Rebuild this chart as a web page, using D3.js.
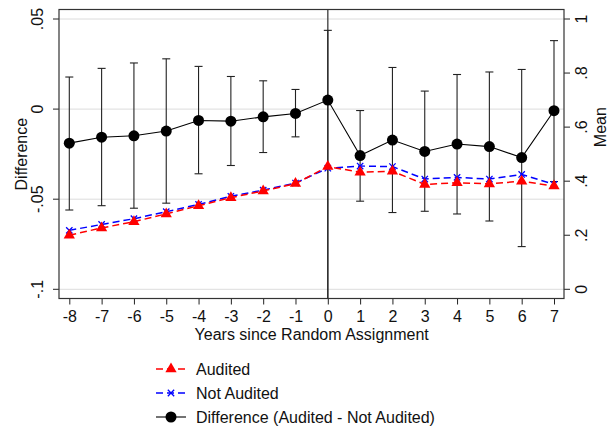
<!DOCTYPE html>
<html lang="en">
<head>
    <meta charset="UTF-8">
    <title>Audited vs Not Audited</title>
    <script src="https://d3js.org/d3.v7.min.js"></script>
    <style>
        body { margin: 0; background: white; }
        text { font-family: "Liberation Sans", Arial, sans-serif; fill: #111; }
    </style>
</head>
<body>
    <div id="chart"></div>
    <script>
        // Data
        const years = [-8, -7, -6, -5, -4, -3, -2, -1, 0, 1, 2, 3, 4, 5, 6, 7];
        const audited    = [0.200, 0.227, 0.250, 0.279, 0.309, 0.339, 0.364, 0.391, 0.454, 0.433, 0.437, 0.388, 0.394, 0.390, 0.400, 0.382];
        const notAudited = [0.218, 0.240, 0.261, 0.287, 0.314, 0.344, 0.367, 0.393, 0.448, 0.456, 0.454, 0.408, 0.414, 0.408, 0.425, 0.388];
        const diff   = [-0.0189, -0.0156, -0.0148, -0.0122, -0.0063, -0.0067, -0.0043, -0.0024, 0.0050, -0.0258, -0.0172, -0.0235, -0.0194, -0.0208, -0.0269, -0.0009];
        const diffHi = [0.0178, 0.0226, 0.0256, 0.0279, 0.0237, 0.0181, 0.0157, 0.0109, 0.0437, -0.0008, 0.0231, 0.0100, 0.0192, 0.0206, 0.0220, 0.0380];
        const diffLo = [-0.0560, -0.0536, -0.0550, -0.0522, -0.0359, -0.0313, -0.0241, -0.0154, null, -0.0511, -0.0574, -0.0567, -0.0582, -0.0621, -0.0763, -0.0402];
        const leftTicks = [-0.1, -0.05, 0, 0.05];
        const leftTickLabels = ["-.1", "-.05", "0", ".05"];
        const rightTicks = [0, 0.2, 0.4, 0.6, 0.8, 1];
        const rightTickLabels = ["0", ".2", ".4", ".6", ".8", "1"];
        const legendLabels = ["Audited", "Not Audited", "Difference (Audited - Not Audited)"];

        const W = 616, H = 429;
        const frame = {left: 59, right: 564, top: 9.5, bottom: 298.5};

        const svg = d3.select("#chart").append("svg")
            .attr("width", W)
            .attr("height", H);

        const x = d3.scaleLinear().domain([-8, 7]).range([69.3, 554]);
        const yL = d3.scaleLinear().domain([-0.1, 0.05]).range([289.3, 19]);
        const yR = d3.scaleLinear().domain([0, 1]).range([289.3, 19]);

        // gridlines
        svg.append("g").selectAll("line")
            .data(leftTicks)
            .join("line")
            .attr("x1", frame.left).attr("x2", frame.right)
            .attr("y1", d => yL(d)).attr("y2", d => yL(d))
            .attr("stroke", "#dcdcdc").attr("stroke-width", 1);

        // vertical line at 0
        svg.append("line")
            .attr("x1", x(0)).attr("x2", x(0))
            .attr("y1", frame.top).attr("y2", frame.bottom)
            .attr("stroke", "#555").attr("stroke-width", 1.5);

        // axes
        const leftAxis = d3.axisLeft(yL).tickValues(leftTicks).tickSize(6)
            .tickFormat((d, i) => leftTickLabels[i]);
        const gl = svg.append("g").attr("transform", `translate(${frame.left},0)`).call(leftAxis);
        gl.select(".domain").remove();
        gl.selectAll("g.tick").attr("transform", null);
        gl.selectAll("g.tick line").attr("y1", d => yL(d)).attr("y2", d => yL(d)).attr("stroke", "#222");
        gl.selectAll("text")
            .attr("x", null).attr("dy", "0.35em").attr("y", 0)
            .attr("transform", d => `translate(-21.5,${yL(d)}) rotate(-90)`)
            .style("text-anchor", "middle")
            .style("font-size", "16px");

        const rightAxis = d3.axisRight(yR).tickValues(rightTicks).tickSize(6)
            .tickFormat((d, i) => rightTickLabels[i]);
        const gr = svg.append("g").attr("transform", `translate(${frame.right},0)`).call(rightAxis);
        gr.select(".domain").remove();
        gr.selectAll("g.tick").attr("transform", null);
        gr.selectAll("g.tick line").attr("y1", d => yR(d)).attr("y2", d => yR(d)).attr("stroke", "#222");
        gr.selectAll("text")
            .attr("x", null).attr("dy", "0.35em").attr("y", 0)
            .attr("transform", d => `translate(17.5,${yR(d)}) rotate(-90)`)
            .style("text-anchor", "middle")
            .style("font-size", "16px");

        const bottomAxis = d3.axisBottom(x).tickValues(years).tickSize(6).tickFormat(d3.format("d"));
        const gb = svg.append("g").attr("transform", `translate(0,${frame.bottom})`).call(bottomAxis);
        gb.select(".domain").remove();
        gb.selectAll("line").attr("stroke", "#222");
        gb.selectAll("text").attr("y", 12.5).style("font-size", "16px")
            .text(d => d < 0 ? "-" + Math.abs(d) : d);

        svg.selectAll(".tick text").attr("fill", "#111");

        // frame
        svg.append("rect")
            .attr("x", frame.left).attr("y", frame.top)
            .attr("width", frame.right - frame.left)
            .attr("height", frame.bottom - frame.top)
            .attr("fill", "none").attr("stroke", "#333").attr("stroke-width", 1.2);

        // axis titles
        svg.append("text")
            .attr("transform", `translate(21,${yL(-0.025)}) rotate(-90)`)
            .attr("dy", "0.35em")
            .style("text-anchor", "middle").style("font-size", "16px")
            .text("Difference");
        svg.append("text")
            .attr("transform", `translate(600,${yR(0.6)}) rotate(-90)`)
            .attr("dy", "0.35em")
            .style("text-anchor", "middle").style("font-size", "16px")
            .text("Mean");
        svg.append("text")
            .attr("x", x(-0.5)).attr("y", 340)
            .style("text-anchor", "middle").style("font-size", "16px")
            .text("Years since Random Assignment");

        // error bars for difference
        const bars = years.map((yr, i) => ({yr, hi: diffHi[i], lo: diffLo[i]}));
        const eb = svg.append("g").attr("stroke", "#222").attr("stroke-width", 1.1);
        eb.selectAll("line.v").data(bars).join("line")
            .attr("class", "v")
            .attr("x1", d => x(d.yr)).attr("x2", d => x(d.yr))
            .attr("y1", d => yL(d.hi))
            .attr("y2", d => d.lo === null ? frame.bottom : yL(d.lo));
        eb.selectAll("line.ch").data(bars).join("line")
            .attr("class", "ch")
            .attr("x1", d => x(d.yr) - 4).attr("x2", d => x(d.yr) + 4)
            .attr("y1", d => yL(d.hi)).attr("y2", d => yL(d.hi));
        eb.selectAll("line.cl").data(bars.filter(d => d.lo !== null)).join("line")
            .attr("class", "cl")
            .attr("x1", d => x(d.yr) - 4).attr("x2", d => x(d.yr) + 4)
            .attr("y1", d => yL(d.lo)).attr("y2", d => yL(d.lo));

        // lines
        const lineR = d3.line().x((d, i) => x(years[i])).y(d => yR(d));
        const lineL = d3.line().x((d, i) => x(years[i])).y(d => yL(d));

        svg.append("path").datum(notAudited)
            .attr("d", lineR).attr("fill", "none")
            .attr("stroke", "#0000ff").attr("stroke-width", 1.5)
            .attr("stroke-dasharray", "7,4");
        svg.append("path").datum(audited)
            .attr("d", lineR).attr("fill", "none")
            .attr("stroke", "#ff0000").attr("stroke-width", 1.5)
            .attr("stroke-dasharray", "7,4");

        const xSym = d3.symbol().type(d3.symbolX).size(28);
        const triSym = d3.symbol().type(d3.symbolTriangle).size(55);

        svg.append("g").selectAll("path").data(notAudited).join("path")
            .attr("transform", (d, i) => `translate(${x(years[i])},${yR(d)})`)
            .attr("d", xSym).attr("stroke", "#0000ff").attr("stroke-width", 1.3).attr("fill", "none");
        svg.append("g").selectAll("path").data(audited).join("path")
            .attr("transform", (d, i) => `translate(${x(years[i])},${yR(d)})`)
            .attr("d", triSym).attr("fill", "#ff0000");

        svg.append("path").datum(diff)
            .attr("d", lineL).attr("fill", "none")
            .attr("stroke", "#000").attr("stroke-width", 1.1);
        svg.append("g").selectAll("circle").data(diff).join("circle")
            .attr("cx", (d, i) => x(years[i])).attr("cy", d => yL(d))
            .attr("r", 5.5).attr("fill", "#000");

        // legend
        const lg = svg.append("g");
        const legY = [369, 393, 417];
        const lx0 = 156, lx1 = 186, lxm = 171;
        // audited
        lg.append("line").attr("x1", lx0).attr("x2", lx1).attr("y1", legY[0]).attr("y2", legY[0])
            .attr("stroke", "#ff0000").attr("stroke-width", 1.5).attr("stroke-dasharray", "7,4");
        lg.append("path").attr("transform", `translate(${lxm},${legY[0]})`).attr("d", triSym).attr("fill", "#ff0000");
        // not audited
        lg.append("line").attr("x1", lx0).attr("x2", lx1).attr("y1", legY[1]).attr("y2", legY[1])
            .attr("stroke", "#0000ff").attr("stroke-width", 1.5).attr("stroke-dasharray", "7,4");
        lg.append("path").attr("transform", `translate(${lxm},${legY[1]})`).attr("d", xSym)
            .attr("stroke", "#0000ff").attr("stroke-width", 1.3).attr("fill", "none");
        // difference
        lg.append("line").attr("x1", lx0).attr("x2", lx1).attr("y1", legY[2]).attr("y2", legY[2])
            .attr("stroke", "#000").attr("stroke-width", 1.1);
        lg.append("circle").attr("cx", lxm).attr("cy", legY[2]).attr("r", 5.5).attr("fill", "#000");

        lg.selectAll("text").data(legendLabels).join("text")
            .attr("x", 196).attr("y", (d, i) => legY[i])
            .attr("dy", "0.35em")
            .style("font-size", "16px")
            .text(d => d);
    </script>
</body>
</html>
